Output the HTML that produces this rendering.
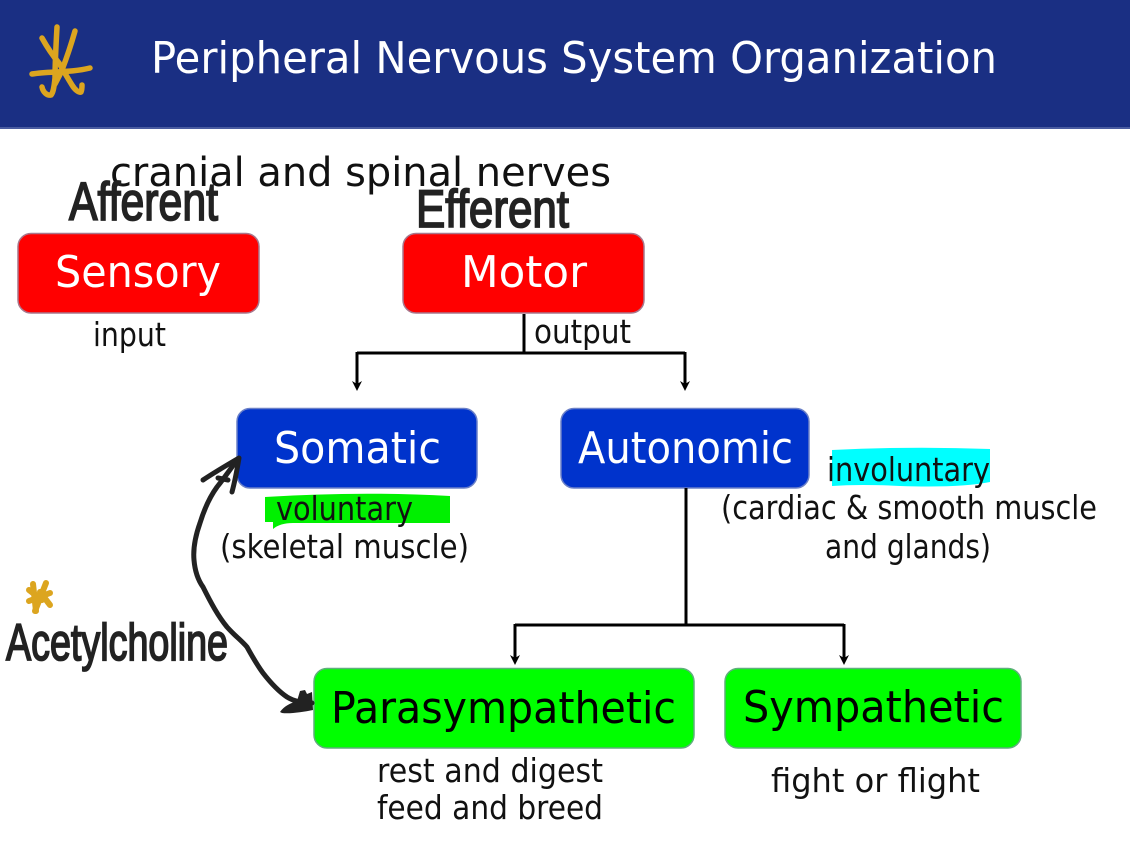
<!DOCTYPE html>
<html><head><meta charset="utf-8"><style>
html,body{margin:0;padding:0;background:#fff;width:1130px;height:849px;overflow:hidden}
svg{display:block}
text{font-family:"DejaVu Sans","Liberation Sans",sans-serif}
.t{font-size:33px;fill:#111}
.b{font-size:44px}
.h{font-family:"Liberation Sans",sans-serif;fill:#222;stroke:#222;stroke-width:1.8px}
</style></head><body>
<svg width="1130" height="849" viewBox="0 0 1130 849" xmlns="http://www.w3.org/2000/svg">
<rect width="1130" height="128" fill="#1a2f83"/>
<rect y="127" width="1130" height="2" fill="#4a5ca0"/>
<g fill="none" stroke="#dca51f" stroke-width="5.500" stroke-linecap="round" stroke-linejoin="round">
<path d="M57 27C56 45 55 65 55 78C54 88 53 93 51 95C47 96 43 92 42 87"/>
<path d="M75 31C71 45 67 57 62 70C60 75 58 78 55 84"/>
<path d="M42 38C47 47 53 56 59 63C63 70 67 77 72 85C75 90 79 93 81 92C82 90 82 88 82 85"/>
<path d="M32 74C50 71 70 73 90 68"/>
</g>
<text x="151" y="73" font-size="44" fill="#fff" textLength="846" lengthAdjust="spacingAndGlyphs">Peripheral Nervous System Organization</text>

<text x="110" y="186" font-size="40" fill="#111" textLength="501" lengthAdjust="spacingAndGlyphs">cranial and spinal nerves</text>
<text class="h" x="69" y="220" font-size="54" textLength="149" lengthAdjust="spacingAndGlyphs">Afferent</text>
<text class="h" x="416" y="227" font-size="53" textLength="153" lengthAdjust="spacingAndGlyphs">Efferent</text>

<g stroke-width="1.5">
<rect x="18" y="233.500" width="241" height="79.500" rx="13" fill="#ff0000" stroke="#a8778c"/>
<rect x="403" y="233.500" width="241" height="79.500" rx="13" fill="#ff0000" stroke="#a8778c"/>
<rect x="237" y="408.500" width="240" height="79.500" rx="13" fill="#0033cc" stroke="#6a80c8"/>
<rect x="561" y="408.500" width="248" height="79.500" rx="13" fill="#0033cc" stroke="#6a80c8"/>
<rect x="314" y="668.500" width="380" height="79.500" rx="13" fill="#00ff00" stroke="#5fae7c"/>
<rect x="725" y="668.500" width="296" height="79.500" rx="13" fill="#00ff00" stroke="#5fae7c"/>
</g>
<text class="b" x="55" y="287" fill="#fff" textLength="166" lengthAdjust="spacingAndGlyphs">Sensory</text>
<text class="b" x="461" y="287" fill="#fff" textLength="126" lengthAdjust="spacingAndGlyphs">Motor</text>
<text class="b" x="274" y="463" fill="#fff" textLength="167" lengthAdjust="spacingAndGlyphs">Somatic</text>
<text class="b" x="578" y="463" fill="#fff" textLength="215" lengthAdjust="spacingAndGlyphs">Autonomic</text>
<text class="b" x="331" y="723" fill="#000" textLength="345" lengthAdjust="spacingAndGlyphs">Parasympathetic</text>
<text class="b" x="743" y="722" fill="#000" textLength="261" lengthAdjust="spacingAndGlyphs">Sympathetic</text>

<path d="M265 497Q360 491 450 496V523H293Q280 523 273 529L273 522H265Z" fill="#00f000"/>
<path d="M832 450Q910 446 990 449V482Q960 488 900 486Q860 484 832 486Z" fill="#00ffff"/>

<g>
<text class="t" x="93" y="346" textLength="73" lengthAdjust="spacingAndGlyphs">input</text>
<text class="t" x="534" y="343" textLength="97" lengthAdjust="spacingAndGlyphs">output</text>
<text class="t" x="276" y="520" textLength="137" lengthAdjust="spacingAndGlyphs">voluntary</text>
<text class="t" x="220" y="558" textLength="249" lengthAdjust="spacingAndGlyphs">(skeletal muscle)</text>
<text class="t" x="827" y="481" textLength="163" lengthAdjust="spacingAndGlyphs">involuntary</text>
<text class="t" x="721" y="519" textLength="376" lengthAdjust="spacingAndGlyphs">(cardiac &amp; smooth muscle</text>
<text class="t" x="825" y="558" textLength="166" lengthAdjust="spacingAndGlyphs">and glands)</text>
<text class="t" x="377" y="782" textLength="226" lengthAdjust="spacingAndGlyphs">rest and digest</text>
<text class="t" x="377" y="819" textLength="226" lengthAdjust="spacingAndGlyphs">feed and breed</text>
<text class="t" x="771" y="792" textLength="209" lengthAdjust="spacingAndGlyphs">fight or flight</text>
</g>

<g fill="none" stroke="#000" stroke-width="3">
<path d="M524 314V353M357 353H685M357 352V384M685 352V384"/>
<path d="M686 488V625M515 625H844M515 624V658M844 624V658"/>
</g>
<g fill="#000">
<path d="M352 381L357 391L362 381L357 384Z"/>
<path d="M680 381L685 391L690 381L685 384Z"/>
<path d="M510 655L515 665L520 655L515 658Z"/>
<path d="M839 655L844 665L849 655L844 658Z"/>
</g>

<g fill="none" stroke="#222" stroke-width="5" stroke-linecap="round" stroke-linejoin="round">
<path d="M238 459C231 468 225 477 217 487C209 498 204 510 200 523C195 537 193 549 194 560C195 572 198 580 203 587C211 603 218 616 227 627C235 636 241 640 247 647C252 656 257 665 263 673C270 682 278 691 287 697C295 702 304 703 312 703"/>
<path d="M203 480C215 472 227 465 239 458C237 470 235 481 232 492"/>
<path d="M218 478L228 480"/>
</g>
<path d="M280 712C284 706 291 703 297 701L300 691L305 690L307 694L312 692L313 710C303 712 290 714 282 713Z" fill="#222"/>
<g fill="none" stroke="#dca51f" stroke-linecap="round" stroke-width="6">
<path d="M33 584L36 611"/>
<path d="M46 583L35 611"/>
<path d="M29 601L50 593"/>
<path d="M40 592L50 605"/>
<path d="M29 590L42 600"/>
</g>
<text class="h" x="6" y="660" font-size="52" textLength="222" lengthAdjust="spacingAndGlyphs">Acetylcholine</text>
</svg>
</body></html>
